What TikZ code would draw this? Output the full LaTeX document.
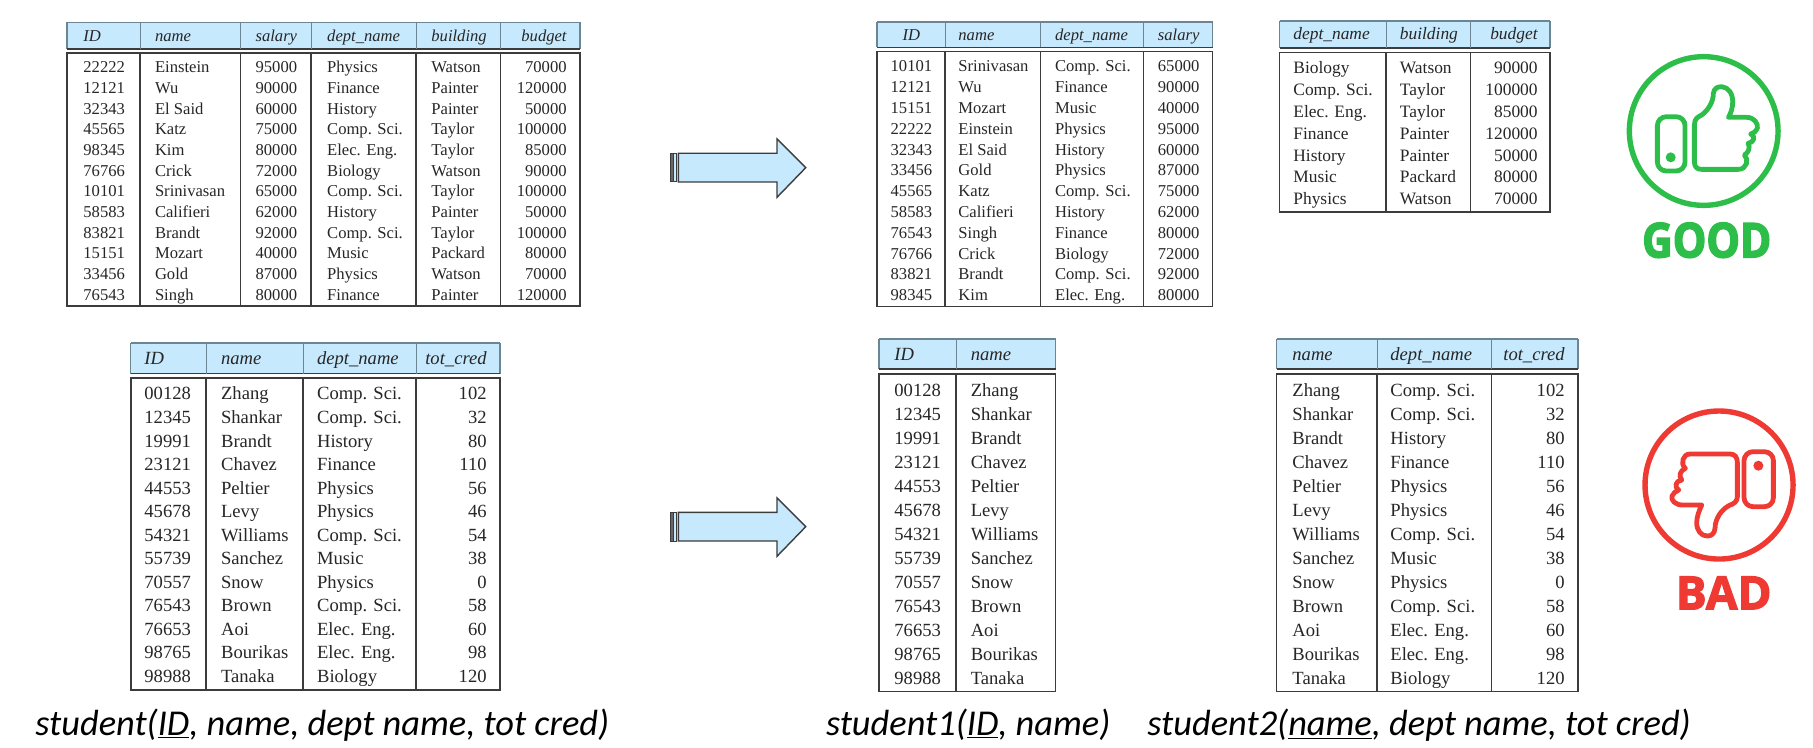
\documentclass[tikz,border=0pt]{standalone}
\usepackage{fontspec}
\setmainfont{Liberation Serif}
\newfontfamily\captionfont{Carlito}
\newfontfamily\badgefont[BoldFeatures={FakeBold=2.5}]{Open Sans}
\newfontfamily\goodfont[BoldFeatures={FakeBold=3,FakeStretch=0.88}]{Open Sans}
\definecolor{headblue}{HTML}{C7E9FD}
\definecolor{ruledark}{HTML}{3C3C3C}
\definecolor{rulehead}{HTML}{6B8593}
\definecolor{inkgray}{HTML}{262626}
\definecolor{goodgreen}{HTML}{2DBE4A}
\definecolor{badred}{HTML}{EE3A33}
\tikzset{
  cell/.style={inner sep=0pt,anchor=base west,text=inkgray},
  cellr/.style={cell,anchor=base east},
  cellc/.style={cell,anchor=base},
  headcell/.style={cell,font=\tabfont\itshape},
  headcellr/.style={cellr,font=\tabfont\itshape},
  headcellc/.style={cellc,font=\tabfont\itshape},
  icon/.style={line width=2.4pt,line join=round},
  caption/.style={inner sep=0pt,anchor=base west,font=\captionfont\itshape\fontsize{18.2pt}{22pt}\selectfont,text=black}
}
\newcommand{\tabfont}{\fontsize{8.5pt}{10pt}\selectfont}
% left, right, head top, head bottom, body top, body bottom, dividers
\newcommand{\tabframe}[7]{
  \fill[headblue] (#1,#3) rectangle (#2,#4);
  \draw[rulehead,line width=0.6pt] (#1,#3) -- (#2,#3);
  \draw[rulehead,line width=0.6pt] (#1,#3) -- (#1,#4);
  \draw[rulehead,line width=0.6pt] (#2,#3) -- (#2,#4);
  \draw[ruledark,line width=0.8pt] (#1,#4) -- (#2,#4);
  \draw[ruledark,line width=0.8pt] (#1,#5) rectangle (#2,#6);
  \foreach \xd in {#7}{
    \draw[rulehead,line width=0.5pt] (\xd,#3) -- (\xd,#4);
    \draw[ruledark,line width=0.7pt] (\xd,#5) -- (\xd,#6);
  }
}
\newcommand{\studentrows}{00128/Zhang/Comp. Sci./102,12345/Shankar/Comp. Sci./32,19991/Brandt/History/80,23121/Chavez/Finance/110,44553/Peltier/Physics/56,45678/Levy/Physics/46,54321/Williams/Comp. Sci./54,55739/Sanchez/Music/38,70557/Snow/Physics/0,76543/Brown/Comp. Sci./58,76653/Aoi/Elec. Eng./60,98765/Bourikas/Elec. Eng./98,98988/Tanaka/Biology/120}
\begin{document}
\begin{tikzpicture}[x=0.5pt,y=-0.5pt]
  \useasboundingbox (0,0) rectangle (1813,748);
  % Joined table
  \tabframe{67}{580}{22.5}{49}{53}{306}{140,240.5,311,416,500.5}
  \renewcommand{\tabfont}{\fontsize{8.3pt}{10pt}\selectfont}
  \begin{scope}[font=\tabfont]
    \node[headcell] (joinID) at (83,41.7) {ID};
    \node[headcell] (joinName) at (154.6,41.7) {name};
    \node[headcellr] (joinSalary) at (297.5,41.7) {salary};
    \node[headcell] (joinDept) at (326.8,41.7) {dept\_name};
    \node[headcell] (joinBuilding) at (431,41.7) {building};
    \node[headcellr] (joinBudget) at (567,41.7) {budget};
    \foreach \a/\b/\c/\d/\e/\f [count=\i] in {22222/Einstein/95000/Physics/Watson/70000,12121/Wu/90000/Finance/Painter/120000,32343/El Said/60000/History/Painter/50000,45565/Katz/75000/Comp. Sci./Taylor/100000,98345/Kim/80000/Elec. Eng./Taylor/85000,76766/Crick/72000/Biology/Watson/90000,10101/Srinivasan/65000/Comp. Sci./Taylor/100000,58583/Califieri/62000/History/Painter/50000,83821/Brandt/92000/Comp. Sci./Taylor/100000,15151/Mozart/40000/Music/Packard/80000,33456/Gold/87000/Physics/Watson/70000,76543/Singh/80000/Finance/Painter/120000}{
      \node[cell] (joinID\i) at (83,{72.7+20.7*(\i-1)}) {\a};
      \node[cell] (joinName\i) at (154.6,{72.7+20.7*(\i-1)}) {\b};
      \node[cellr] (joinSalary\i) at (297.5,{72.7+20.7*(\i-1)}) {\c};
      \node[cell] (joinDept\i) at (326.8,{72.7+20.7*(\i-1)}) {\d};
      \node[cell] (joinBuilding\i) at (431,{72.7+20.7*(\i-1)}) {\e};
      \node[cellr] (joinBudget\i) at (567,{72.7+20.7*(\i-1)}) {\f};
    }
  \end{scope}
  % Instructor table
  \tabframe{877}{1212.5}{22}{47.5}{51.5}{306.5}{945,1040.5,1143.7}
  \begin{scope}[font=\tabfont]
    \node[headcellc] (instrID) at (911.4,41) {ID};
    \node[headcell] (instrName) at (958,41) {name};
    \node[headcell] (instrDept) at (1054.7,41) {dept\_name};
    \node[headcellr] (instrSalary) at (1199.8,41) {salary};
    \foreach \a/\b/\c/\d [count=\i] in {10101/Srinivasan/Comp. Sci./65000,12121/Wu/Finance/90000,15151/Mozart/Music/40000,22222/Einstein/Physics/95000,32343/El Said/History/60000,33456/Gold/Physics/87000,45565/Katz/Comp. Sci./75000,58583/Califieri/History/62000,76543/Singh/Finance/80000,76766/Crick/Biology/72000,83821/Brandt/Comp. Sci./92000,98345/Kim/Elec. Eng./80000}{
      \node[cellc] (instrID\i) at (911.4,{72+20.8*(\i-1)}) {\a};
      \node[cell] (instrName\i) at (958,{72+20.8*(\i-1)}) {\b};
      \node[cell] (instrDept\i) at (1054.7,{72+20.8*(\i-1)}) {\c};
      \node[cellr] (instrSalary\i) at (1199.8,{72+20.8*(\i-1)}) {\d};
    }
  \end{scope}
  % Department table
  \tabframe{1279.6}{1550}{21}{48}{52.7}{212}{1386,1470.5}
  \renewcommand{\tabfont}{\fontsize{8.7pt}{10pt}\selectfont}
  \begin{scope}[font=\tabfont]
    \node[headcell] (deptDept) at (1293,40) {dept\_name};
    \node[headcell] (deptBuilding) at (1399.5,40) {building};
    \node[headcellr] (deptBudget) at (1538,40) {budget};
    \foreach \a/\b/\c [count=\i] in {Biology/Watson/90000,Comp. Sci./Taylor/100000,Elec. Eng./Taylor/85000,Finance/Painter/120000,History/Painter/50000,Music/Packard/80000,Physics/Watson/70000}{
      \node[cell] (deptDept\i) at (1293,{74+21.8*(\i-1)}) {\a};
      \node[cell] (deptBuilding\i) at (1399.5,{74+21.8*(\i-1)}) {\b};
      \node[cellr] (deptBudget\i) at (1538,{74+21.8*(\i-1)}) {\c};
    }
  \end{scope}
  % Student table
  \tabframe{130.7}{500}{343}{373.5}{378}{690}{206,303,416}
  \renewcommand{\tabfont}{\fontsize{9.3pt}{11pt}\selectfont}
  \begin{scope}[font=\tabfont]
    \node[headcell] (studID) at (144,364.5) {ID};
    \node[headcell] (studName) at (220.7,364.5) {name};
    \node[headcell] (studDept) at (316.7,364.5) {dept\_name};
    \node[headcellr] (studCred) at (487,364.5) {tot\_cred};
    \foreach \a/\b/\c/\d [count=\i] in \studentrows{
      \node[cell] (studID\i) at (144,{400+23.5*(\i-1)}) {\a};
      \node[cell] (studName\i) at (220.7,{400+23.5*(\i-1)}) {\b};
      \node[cell] (studDept\i) at (316.7,{400+23.5*(\i-1)}) {\c};
      \node[cellr] (studCred\i) at (487,{400+23.5*(\i-1)}) {\d};
    }
  \end{scope}
  % student1 table
  \tabframe{879}{1055.5}{339}{369}{374}{691.5}{956}
  \begin{scope}[font=\tabfont]
    \node[headcell] (oneID) at (894,360.5) {ID};
    \node[headcell] (oneName) at (970.4,360.5) {name};
    \foreach \a/\b/\c/\d [count=\i] in \studentrows{
      \node[cell] (oneID\i) at (894,{396.5+24*(\i-1)}) {\a};
      \node[cell] (oneName\i) at (970.4,{396.5+24*(\i-1)}) {\b};
    }
  \end{scope}
  % student2 table
  \tabframe{1276.5}{1578}{339}{369}{374}{691.5}{1377,1491.6}
  \begin{scope}[font=\tabfont]
    \node[headcell] (twoName) at (1292,360.5) {name};
    \node[headcell] (twoDept) at (1390,360.5) {dept\_name};
    \node[headcellr] (twoCred) at (1565,360.5) {tot\_cred};
    \foreach \a/\b/\c/\d [count=\i] in \studentrows{
      \node[cell] (twoName\i) at (1292,{396.5+24*(\i-1)}) {\b};
      \node[cell] (twoDept\i) at (1390,{396.5+24*(\i-1)}) {\c};
      \node[cellr] (twoCred\i) at (1565,{396.5+24*(\i-1)}) {\d};
    }
  \end{scope}
  % Block arrows
  \foreach \dy in {0,359}{
    \begin{scope}[shift={(0,\dy)}]
      \draw[ruledark,line width=0.5pt,fill=gray!80!black] (670,153.3) rectangle (673,182);
      \draw[ruledark,line width=0.5pt,fill=headblue] (673,153.3) rectangle (676.8,182);
      \draw[ruledark,line width=0.7pt,fill=headblue,line join=miter] (678.3,153.3) -- (777,153.3) -- (777,139) -- (805.7,167.7) -- (777,197.3) -- (777,182) -- (678.3,182) -- cycle;
    \end{scope}
  }
  % Good badge
  \begin{scope}[shift={(1600,60)},x=0.1667pt,y=-0.1667pt]
    \draw[goodgreen,line width=2.7pt] (311,213) circle[radius=223];
    \draw[goodgreen,icon,rounded corners=4.5pt] (172,170) rectangle (255,333);
    \fill[goodgreen] (212,292) circle[radius=15];
    \draw[goodgreen,icon] (283,305) -- (283,195) .. controls (283,175) and (295,170) .. (305,165) .. controls (325,150) and (340,125) .. (340,100) .. controls (342,85) and (352,80) .. (365,80) .. controls (385,82) and (398,100) .. (398,125) .. controls (398,145) and (392,160) .. (385,172) -- (440,172) .. controls (462,172) and (475,190) .. (472,205) .. controls (470,215) and (460,218) .. (452,222) .. controls (468,228) and (462,248) .. (444,250) .. controls (452,262) and (445,278) .. (433,285) .. controls (448,298) and (440,328) .. (415,328) -- (305,328) .. controls (290,328) and (283,320) .. (283,305) -- cycle;
    \node[inner sep=0pt,anchor=base,text=goodgreen,font=\goodfont\bfseries\fontsize{24pt}{28pt}\selectfont] (goodLabel) at (320,592) {GOOD};
  \end{scope}
  % Bad badge
  \begin{scope}[shift={(1600,390)},x=0.1667pt,y=-0.1667pt]
    \draw[badred,line width=2.7pt] (357,285) circle[radius=222];
    \draw[badred,icon,rounded corners=4.5pt] (432,185) rectangle (520,350);
    \fill[badred] (475,227) circle[radius=15];
    \draw[badred,icon] (270,192) -- (390,192) .. controls (405,192) and (412,202) .. (412,218) -- (412,320) .. controls (412,335) and (400,342) .. (388,346) .. controls (365,358) and (345,385) .. (345,415) .. controls (343,430) and (335,438) .. (322,438) .. controls (302,438) and (290,420) .. (290,398) .. controls (290,380) and (298,360) .. (305,345) -- (248,345) .. controls (225,345) and (212,330) .. (216,318) .. controls (218,308) and (228,305) .. (236,300) .. controls (222,292) and (226,272) .. (245,270) .. controls (235,258) and (240,242) .. (256,235) .. controls (240,222) and (248,192) .. (270,192) -- cycle;
    \node[inner sep=0pt,anchor=base,text=badred,font=\badgefont\bfseries\fontsize{23pt}{28pt}\selectfont] (badLabel) at (371,658) {BAD};
  \end{scope}
  % Schema captions
  \node[caption] (schemaStudent) at (35,735) {student(\underline{ID}, name, dept name, tot cred)};
  \node[caption] (schemaOne) at (825.6,735) {student1(\underline{ID}, name)};
  \node[caption] (schemaTwo) at (1147,735) {student2(\underline{name}, dept name, tot cred)};
\end{tikzpicture}
\end{document}
